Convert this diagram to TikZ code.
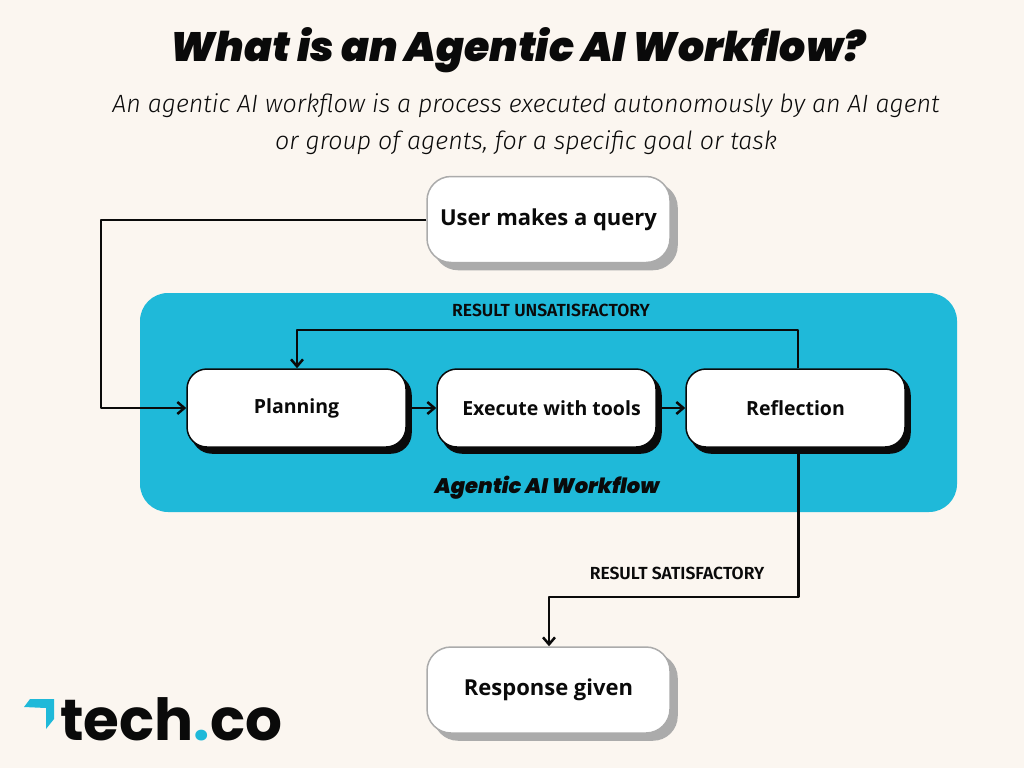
\documentclass[tikz,border=0pt]{standalone}
\usepackage{xcolor}
\usepackage{fontspec}
\setmainfont{Liberation Sans}
\newfontfamily\titlefont{Poppins}[UprightFont=* Black, ItalicFont=* Black Italic, BoldFont=* Black, BoldItalicFont=* Black Italic]
\newfontfamily\subfont{Fira Sans}[UprightFont=* Light, ItalicFont=* Light Italic]
\newfontfamily\boxfont{Open Sans}
\newfontfamily\tagfont{Fira Sans}[BoldFont=* SemiBold]
\newfontfamily\logofont{Poppins}
\usetikzlibrary{shadows,arrows.meta,positioning}
\definecolor{paper}{HTML}{FBF6F0}
\definecolor{panelblue}{HTML}{1FB9D9}
\definecolor{softgrey}{HTML}{ABABAB}
\definecolor{inkblack}{HTML}{0A0A0A}
\tikzset{every shadow/.style={}}
\tikzset{
    stepbox/.style={draw=inkblack, line width=1.5pt, fill=white, rounded corners=20pt, minimum width=219pt, minimum height=78pt, inner sep=0pt,
        font=\boxfont\bfseries\fontsize{19.5}{22}\selectfont, text=inkblack,
        copy shadow={shadow xshift=5pt, shadow yshift=-6pt, fill=inkblack, draw=inkblack}},
    endbox/.style={draw=softgrey, line width=1.5pt, fill=white, rounded corners=24pt, minimum width=243pt, minimum height=86pt, inner sep=0pt,
        font=\boxfont\bfseries\fontsize{22}{26}\selectfont, text=inkblack,
        copy shadow={shadow xshift=7pt, shadow yshift=-7pt, fill=softgrey, draw=softgrey}},
    flow/.style={draw=inkblack, line width=2.5pt, line join=round, -{Straight Barb[length=7pt,width=12pt,line width=2.5pt]}},
    tag/.style={font=\tagfont\bfseries\fontsize{17.5}{20}\selectfont, text=inkblack},
    subline/.style={font=\subfont\itshape\fontsize{25}{30}\selectfont, text=inkblack}
}
\begin{document}
\begin{tikzpicture}[x=1pt,y=-1pt]
    \useasboundingbox (0,0) rectangle (1024,768);
    \fill[paper] (0,0) rectangle (1024,768);

    \node[font=\titlefont\itshape\fontsize{41}{48}\selectfont, text=inkblack] (title) at (518,50) {What is an Agentic AI Workflow?};
    \node[subline] (subone) at (526,106) {An agentic AI workflow is a process executed autonomously by an AI agent};
    \node[subline] (subtwo) at (526,143) {or group of agents, for a specific goal or task};

    \node[fill=panelblue, rounded corners=28pt, minimum width=817pt, minimum height=219pt, inner sep=0pt] (panel) at (548.5,402.5) {};

    \node[endbox] (user) at (548.5,219.5) {User makes a query};
    \node[stepbox] (planning) at (296.5,408) {Planning};
    \node[stepbox] (execute) at (546.5,408) {\hspace*{10pt}Execute with tools};
    \node[stepbox] (reflection) at (795.5,408) {Reflection};
    \node[endbox] (response) at (548.5,690) {Response given};

    \node[font=\titlefont\itshape\fontsize{21}{25}\selectfont, text=inkblack] (paneltitle) at (547,488) {Agentic AI Workflow};
    \node[tag] (unsat) at (551,310) {RESULT UNSATISFACTORY};
    \node[tag] (sat) at (677,573) {RESULT SATISFACTORY};

    \coordinate (querybend) at (101,220);
    \coordinate (retrybend) at (297,330);
    \coordinate (donebend) at (549,597);

    \draw[flow] (user.west |- querybend) -- (querybend) -- (querybend |- planning.west) -- (planning.west);
    \draw[flow] (planning.east) ++(5pt,0) -- (execute.west);
    \draw[flow] (execute.east) ++(5pt,0) -- (reflection.west);
    \draw[flow] (reflection.north) ++(2.5pt,0) |- (retrybend) -- (planning.north -| retrybend);
    \draw[flow] (reflection.south) ++(3pt,0) |- (donebend) -- (response.north -| donebend);

    % logo
    \fill[panelblue] (24,707) -- (30,699) -- (54,699) -- (54,719) -- (46,729) -- (46,708) -- cycle;
    \node[anchor=base west, inner sep=0pt, font=\logofont\bfseries\fontsize{58}{60}\selectfont, text=inkblack] (logo) at (60,740) {tech{\color{panelblue}.}co};
\end{tikzpicture}
\end{document}
